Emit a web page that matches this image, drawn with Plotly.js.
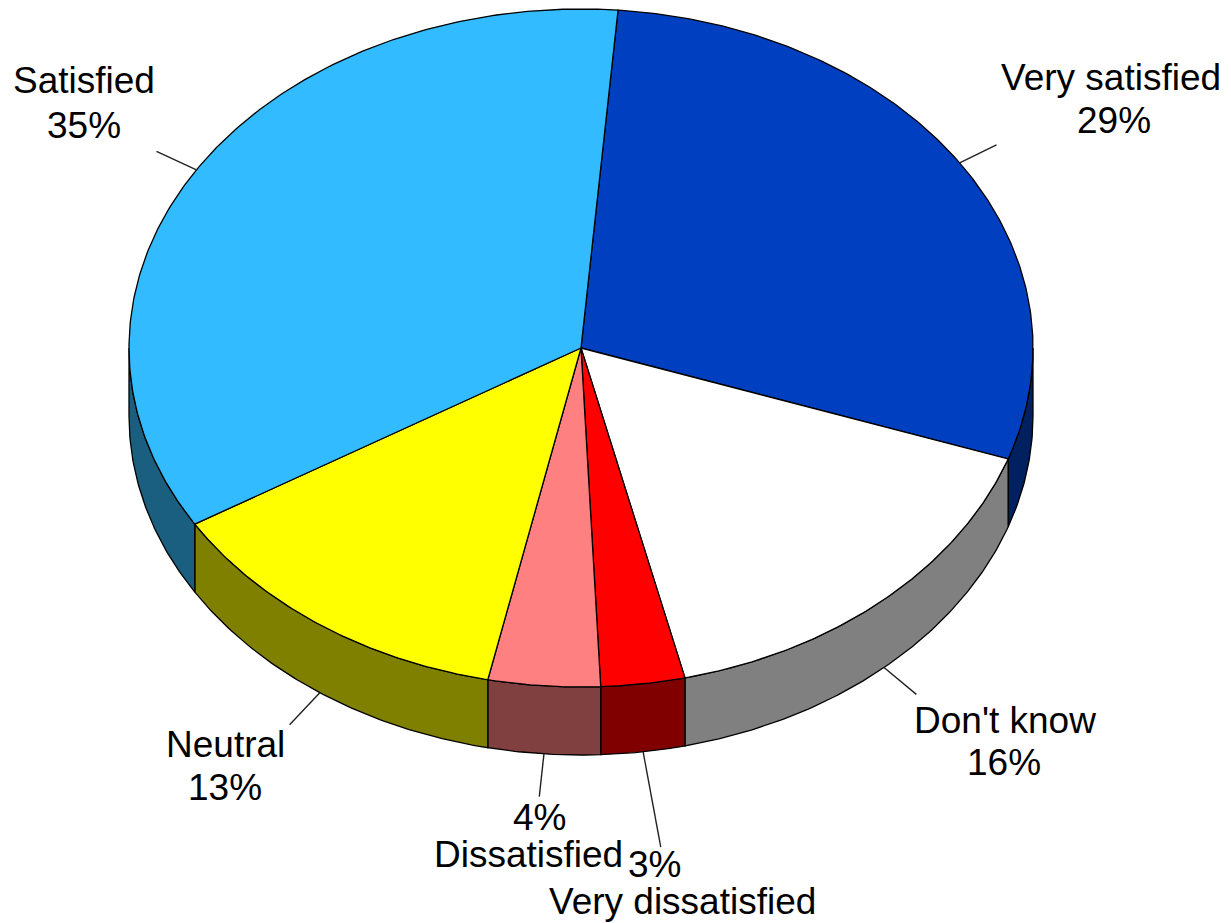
<!DOCTYPE html>
<html>
<head>
<meta charset="utf-8">
<script src="https://cdn.plot.ly/plotly-3.0.1.min.js"></script>
<style>html,body{margin:0;padding:0;background:#fff;}#chart{width:1231px;height:923px;}</style>
</head>
<body>
<div id="chart"></div>
<script>
// ---- data ----
const categories = ["Very satisfied", "Don't know", "Very dissatisfied", "Dissatisfied", "Neutral", "Satisfied"];
const values = [29, 16, 3, 4, 13, 35];
const pctLabels = ["29%", "16%", "3%", "4%", "13%", "35%"];

// ---- style ----
const topColors  = ["#0040C0", "#FFFFFF", "#FF0000", "#FF8080", "#FFFF00", "#33BBFF"];
const sideColors = ["#002060", "#808080", "#800000", "#804040", "#808000", "#1A5E80"];
const leaderLen  = [41, 42, 97, 43, 44, 44];
const nameFirst  = [true, true, false, false, true, true];
// label line positions [x, y] for first and second line
const labelPos = [
  [[1111, 77], [1114, 120]],
  [[1005, 720], [1004, 762]],
  [[654, 864], [682, 901]],
  [[539, 817], [528, 854]],
  [[225, 744], [225, 787]],
  [[84, 80], [84, 125]]
];
const geo = {cx: 581, cy: 348, rx: 452, ry: 339, depth: 68, start: 85.3};
const fontSize = 37;

const rad = d => d * Math.PI / 180;
function pt(deg, dy) {
  return [geo.cx + geo.rx * Math.cos(rad(deg)), geo.cy - geo.ry * Math.sin(rad(deg)) + (dy || 0)];
}
function arc(a0, a1, dy) {
  const pts = [];
  const n = Math.max(2, Math.ceil(Math.abs(a0 - a1) / 0.5));
  for (let k = 0; k <= n; k++) pts.push(pt(a0 + (a1 - a0) * k / n, dy));
  return pts;
}

const total = values.reduce((a, b) => a + b, 0);
const slices = [];
let cur = geo.start;
values.forEach((v, i) => {
  const span = v / total * 360;
  slices.push({i, a0: cur, a1: cur - span, mid: cur - span / 2});
  cur -= span;
});

const traces = [];
// side faces (front half only)
slices.forEach(s => {
  const hi = s.a0, lo = s.a1;
  for (let k = -2; k <= 1; k++) {
    const bLo = -180 + 360 * k, bHi = 0 + 360 * k;
    const a = Math.min(hi, bHi), b = Math.max(lo, bLo);
    if (a > b) {
      const top = arc(a, b, 0);
      const bot = arc(b, a, geo.depth);
      const poly = top.concat(bot);
      poly.push(top[0]);
      traces.push({
        type: "scatter", mode: "lines", fill: "toself",
        x: poly.map(p => p[0]), y: poly.map(p => p[1]),
        fillcolor: sideColors[s.i], line: {color: "#000", width: 1.3},
        hoverinfo: "skip", showlegend: false
      });
    }
  }
});
// top faces
slices.forEach(s => {
  const poly = [[geo.cx, geo.cy]].concat(arc(s.a0, s.a1, 0));
  poly.push([geo.cx, geo.cy]);
  traces.push({
    type: "scatter", mode: "lines", fill: "toself",
    x: poly.map(p => p[0]), y: poly.map(p => p[1]),
    fillcolor: topColors[s.i], line: {color: "#000", width: 1.3},
    hoverinfo: "skip", showlegend: false
  });
});
// leader lines
slices.forEach(s => {
  const lower = Math.sin(rad(s.mid)) < 0;
  const base = pt(s.mid, lower ? geo.depth : 0);
  let dx = geo.rx * Math.cos(rad(s.mid)), dy = -geo.ry * Math.sin(rad(s.mid));
  const L = Math.hypot(dx, dy); dx /= L; dy /= L;
  const len = leaderLen[s.i];
  traces.push({
    type: "scatter", mode: "lines",
    x: [base[0], base[0] + dx * len], y: [base[1], base[1] + dy * len],
    line: {color: "#222", width: 1.4}, hoverinfo: "skip", showlegend: false
  });
});

const annotations = [];
slices.forEach(s => {
  const lines = nameFirst[s.i] ? [categories[s.i], pctLabels[s.i]] : [pctLabels[s.i], categories[s.i]];
  lines.forEach((t, j) => {
    annotations.push({
      x: labelPos[s.i][j][0], y: labelPos[s.i][j][1], xref: "x", yref: "y",
      text: t, showarrow: false, xanchor: "center", yanchor: "middle", borderpad: 0,
      font: {family: "Liberation Sans, Arial, sans-serif", size: fontSize, color: "#000"}
    });
  });
});

const layout = {
  width: 1231, height: 923,
  margin: {l: 0, r: 0, t: 0, b: 0},
  paper_bgcolor: "#fff", plot_bgcolor: "#fff",
  xaxis: {range: [0, 1231], visible: false, fixedrange: true},
  yaxis: {range: [923, 0], visible: false, fixedrange: true},
  showlegend: false,
  annotations
};
Plotly.newPlot("chart", traces, layout, {staticPlot: true, displayModeBar: false});
</script>
</body>
</html>
